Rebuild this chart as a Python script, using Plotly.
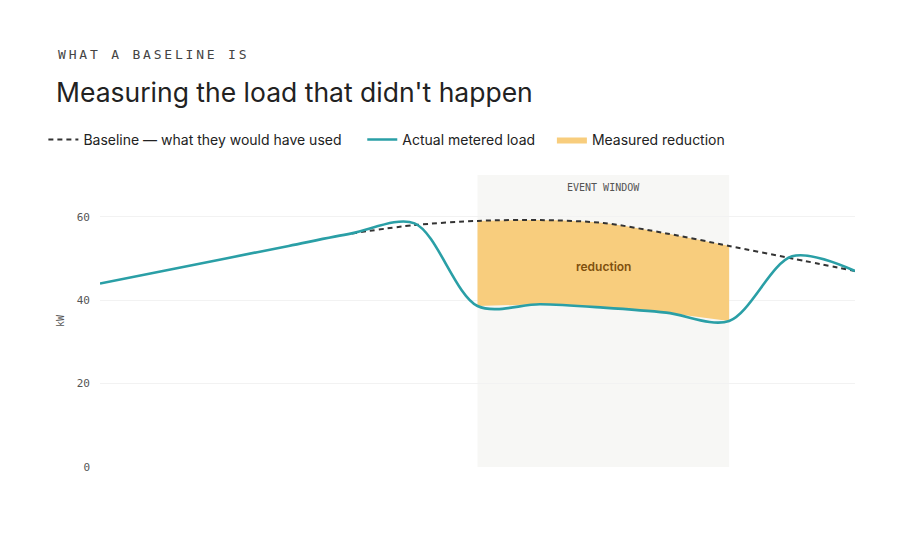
import plotly.graph_objects as go

# ---- data (hours from start of window, kW) ----
actual_x = [0, 1, 2, 3, 4, 5, 6, 7, 8, 9, 10, 11, 12]
actual_y = [44, 47, 50, 53, 56, 58.4, 38.6, 39, 38.2, 37, 35, 50.5, 47]

baseline_x = [4, 5, 6, 7, 8, 9, 10, 11, 12]
baseline_y = [56, 58, 59, 59.2, 58.5, 56, 53, 50, 47]

event_start, event_end = 6, 10
y_ticks = [0, 20, 40, 60]

legend_names = {
    "baseline": "Baseline — what they would have used\u00a0\u00a0\u00a0\u00a0",
    "actual": "Actual metered load\u00a0\u00a0\u00a0",
    "reduction": "Measured reduction",
}

TEAL = "#2a9fa6"
ORANGE = "#f8cd7d"
DARK = "#333333"
MONO = "DejaVu Sans Mono"
SANS = "Inter"

ev_x = [x for x in actual_x if event_start <= x <= event_end]
ev_lo = [y for x, y in zip(actual_x, actual_y) if event_start <= x <= event_end]
ev_hi = [y for x, y in zip(baseline_x, baseline_y) if event_start <= x <= event_end]

fig = go.Figure()

# lower edge of reduction (invisible)
fig.add_trace(go.Scatter(x=ev_x, y=ev_lo, mode="lines", line=dict(width=0, color=ORANGE),
                         showlegend=False, hoverinfo="skip"))
# reduction fill
fig.add_trace(go.Scatter(x=ev_x, y=ev_hi, mode="lines", fill="tonexty", fillcolor=ORANGE,
                         line=dict(width=0, color=ORANGE, shape="spline", smoothing=0.8),
                         name=legend_names["reduction"], legendrank=3))
# baseline
fig.add_trace(go.Scatter(x=baseline_x, y=baseline_y, mode="lines",
                         line=dict(color=DARK, width=2, dash="5px,4px", shape="spline", smoothing=0.8),
                         name=legend_names["baseline"], legendrank=1))
# actual
fig.add_trace(go.Scatter(x=actual_x, y=actual_y, mode="lines",
                         line=dict(color=TEAL, width=2.6, shape="spline", smoothing=0.9),
                         name=legend_names["actual"], legendrank=2))

fig.add_shape(type="rect", xref="x", yref="y", x0=event_start, x1=event_end, y0=0, y1=70,
              fillcolor="#f7f7f5", line=dict(width=0), layer="below")

fig.add_annotation(x=(event_start + event_end) / 2, y=70, xref="x", yref="y", yanchor="top",
                   yshift=-5, text="EVENT WINDOW", showarrow=False,
                   font=dict(family=MONO, size=10, color="#555"))
fig.add_annotation(x=(event_start + event_end) / 2, y=48, xref="x", yref="y",
                   text="reduction", showarrow=False,
                   font=dict(family=SANS, size=12, color="#7f500e", weight=600))

fig.add_annotation(x=-0.0583, y=1.414, xref="paper", yref="paper", xanchor="left", yanchor="middle",
                   text='<span style="letter-spacing:2.8px">WHAT A BASELINE IS</span>',
                   showarrow=False, font=dict(family=MONO, size=13, color="#444"))
fig.add_annotation(x=-0.0612, y=1.284, xref="paper", yref="paper", xanchor="left", yanchor="middle",
                   text="Measuring the load that didn't happen",
                   showarrow=False, font=dict(family=SANS, size=26.5, color="#222"))

fig.update_layout(
    width=924, height=540,
    margin=dict(l=100, r=69, t=175, b=73),
    paper_bgcolor="white", plot_bgcolor="white",
    showlegend=True,
    legend=dict(orientation="h", x=-0.075, y=1.12, xanchor="left", yanchor="middle",
                font=dict(family=SANS, size=14, color="#222"), itemwidth=30,
                traceorder="normal", bgcolor="rgba(0,0,0,0)"),
    xaxis=dict(range=[0, 12], showgrid=False, zeroline=False, showticklabels=False,
               showline=False, ticks=""),
    yaxis=dict(range=[0, 70], tickvals=y_ticks, showgrid=True, gridcolor="#f2f2f2",
               zeroline=False, showline=False, ticks="", ticklabelstandoff=9,
               tickfont=dict(family=MONO, size=11, color="#555"),
               title=dict(text="kW", font=dict(family=MONO, size=10, color="#555"), standoff=10)),
)

fig.write_html("out.html")
